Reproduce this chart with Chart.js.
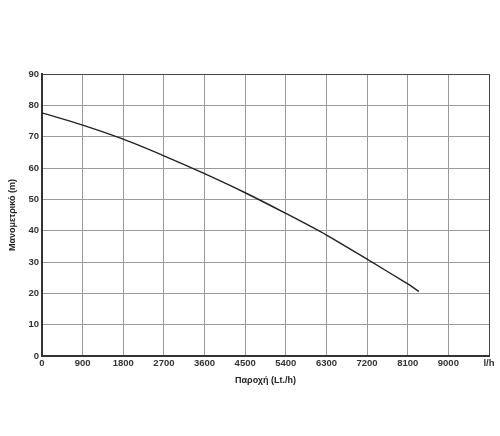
<!DOCTYPE html>
<html lang="el">
<head>
<meta charset="UTF-8">
<title>Καμπύλη αντλίας</title>
<script src="https://cdn.jsdelivr.net/npm/chart.js"></script>
<style>
  body { margin: 0; background: #fff; }
  #wrap { width: 500px; height: 436px; }
</style>
</head>
<body>
<div id="wrap"><canvas id="grafico" width="500" height="436"></canvas></div>
<script>
    // παροχή (l/h) και μανομετρικό (m), διαβασμένα από την καμπύλη
    const paroxi = [0, 900, 1800, 2700, 3600, 4500, 5400, 6300, 7200, 8100, 8350];
    const manometriko = [77.6, 73.7, 69.2, 63.9, 58.2, 52.1, 45.5, 38.6, 30.9, 23.0, 20.6];
    const xTicks = [0, 900, 1800, 2700, 3600, 4500, 5400, 6300, 7200, 8100, 9000, 9900];
    const yTicks = [0, 10, 20, 30, 40, 50, 60, 70, 80, 90];

    const fontTicks = { family: "'Liberation Sans Narrow', 'Liberation Sans', Arial, sans-serif", size: 9.5, weight: 'bold' };
    const fontTitle = { family: "'Liberation Sans', Arial, sans-serif", size: 9, weight: 'bold' };

    const punti = paroxi.map(function (x, i) { return { x: x, y: manometriko[i] }; });

    new Chart(document.getElementById('grafico'), {
        type: 'scatter',
        data: {
            datasets: [{
                data: punti,
                showLine: true,
                borderColor: '#222',
                borderWidth: 1.4,
                pointRadius: 0,
                tension: 0.3
            }]
        },
        options: {
            responsive: false,
            animation: false,
            layout: { padding: { left: 3, right: 11, top: 74, bottom: 50 } },
            plugins: { legend: { display: false }, tooltip: { enabled: false } },
            scales: {
                x: {
                    type: 'linear',
                    min: xTicks[0],
                    max: xTicks[xTicks.length - 1],
                    afterBuildTicks: function (s) { s.ticks = xTicks.map(function (v) { return { value: v }; }); },
                    afterFit: function (s) { s.height = 30; },
                    ticks: {
                        color: '#333',
                        font: fontTicks,
                        padding: 2,
                        maxRotation: 0,
                        autoSkip: false,
                        callback: function (v) { return v === 9900 ? 'l/h' : v; }
                    },
                    grid: {
                        drawTicks: false,
                        color: function (c) { return c.tick && c.tick.value === 9900 ? '#444' : '#9a9a9a'; },
                        lineWidth: 1
                    },
                    border: { color: '#333', width: 2 },
                    title: { display: true, text: 'Παροχή (Lt./h)', color: '#222', font: fontTitle, padding: { top: 2, bottom: 0 } }
                },
                y: {
                    min: 0,
                    max: 90,
                    afterBuildTicks: function (s) { s.ticks = yTicks.map(function (v) { return { value: v }; }); },
                    afterFit: function (s) { s.width = 39; },
                    ticks: { color: '#333', font: fontTicks, padding: 3 },
                    grid: {
                        drawTicks: false,
                        color: function (c) { return c.tick && c.tick.value === 90 ? '#444' : '#9a9a9a'; },
                        lineWidth: 1
                    },
                    border: { color: '#333', width: 2 },
                    title: { display: true, text: 'Μανομετρικό (m)', color: '#222', font: fontTitle, padding: { top: 4, bottom: 4 } }
                }
            }
        }
    });
</script>
</body>
</html>
